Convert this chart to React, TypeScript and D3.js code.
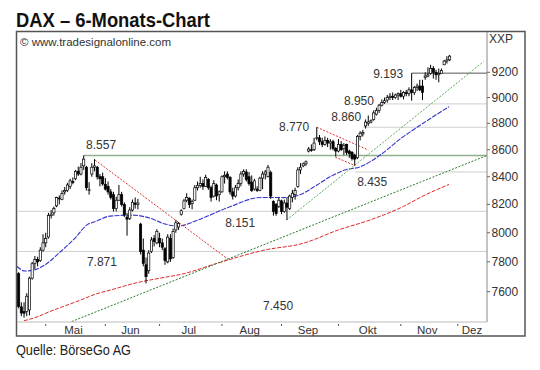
import * as d3 from 'd3'

// DAX daily candles, 17.04.2013 - 27.11.2013
const opens = [
  7720, 7500, 7470, 7470, 7480, 7690, 7790, 7815, 7810, 7880,
  7930, 7970, 8120, 8140, 8190, 8245, 8235, 8290, 8300, 8330,
  8365, 8385, 8440, 8420, 8480, 8470, 8300, 8420, 8470, 8470,
  8400, 8400, 8345, 8330, 8290, 8270, 8170, 8230, 8270, 8200,
  8110, 8100, 8160, 8210, 8200, 8060, 7880, 7780, 7740, 7870,
  7960, 7930, 7960, 7930, 7890, 7800, 7960, 7830, 8020, 8040,
  8130, 8170, 8230, 8245, 8205, 8230, 8320, 8335, 8350, 8330,
  8380, 8320, 8260, 8340, 8270, 8290, 8400, 8420, 8395, 8290,
  8260, 8320, 8350, 8420, 8435, 8400, 8360, 8310, 8310, 8300,
  8390, 8420, 8400, 8430, 8220, 8200, 8185, 8225, 8150, 8210,
  8170, 8250, 8270, 8330, 8450, 8480, 8495, 8590, 8600, 8600,
  8690, 8690, 8660, 8640, 8670, 8650, 8660, 8610, 8590, 8640,
  8610, 8640, 8590, 8580, 8560, 8540, 8700, 8720, 8780, 8800,
  8810, 8830, 8870, 8900, 8940, 8960, 8980, 9000, 9010, 9000,
  9020, 9030, 9010, 9040, 9030, 9060, 9040, 9080, 9090, 9090,
  9160, 9170, 9190, 9230, 9200, 9180, 9190, 9260, 9290, 9300,
]
const highs = [
  7730, 7530, 7530, 7590, 7700, 7800, 7840, 7835, 7900, 7990,
  8000, 8140, 8160, 8185, 8255, 8265, 8300, 8325, 8355, 8385,
  8395, 8450, 8475, 8500, 8557, 8480, 8360, 8500, 8530, 8480,
  8420, 8430, 8390, 8365, 8310, 8290, 8255, 8340, 8290, 8215,
  8140, 8180, 8235, 8250, 8240, 8070, 7960, 7830, 7880, 7970,
  7985, 8025, 8000, 7960, 7900, 7990, 7990, 8030, 8090, 8075,
  8165, 8240, 8280, 8250, 8235, 8340, 8365, 8400, 8380, 8415,
  8390, 8335, 8375, 8350, 8300, 8410, 8440, 8440, 8405, 8320,
  8340, 8380, 8440, 8455, 8455, 8435, 8410, 8385, 8330, 8400,
  8440, 8450, 8487, 8445, 8230, 8210, 8250, 8234, 8234, 8250,
  8270, 8305, 8320, 8470, 8500, 8505, 8520, 8620, 8640, 8690,
  8770, 8711, 8690, 8700, 8690, 8680, 8675, 8620, 8680, 8665,
  8650, 8645, 8600, 8590, 8570, 8711, 8740, 8750, 8830, 8860,
  8830, 8900, 8920, 8950, 8985, 9000, 9020, 9035, 9040, 9030,
  9040, 9060, 9050, 9060, 9080, 9193, 9090, 9110, 9140, 9140,
  9200, 9240, 9260, 9250, 9220, 9230, 9230, 9300, 9330, 9340,
]
const lows = [
  7490, 7440, 7430, 7440, 7445, 7680, 7750, 7770, 7800, 7870,
  7900, 7960, 8100, 8120, 8180, 8200, 8230, 8270, 8290, 8310,
  8345, 8375, 8405, 8410, 8450, 8300, 8270, 8400, 8440, 8380,
  8330, 8335, 8300, 8270, 8235, 8150, 8150, 8225, 8185, 8110,
  7980, 8090, 8150, 8170, 8165, 7850, 7770, 7655, 7720, 7860,
  7905, 7920, 7900, 7880, 7780, 7790, 7800, 7820, 8000, 8020,
  8120, 8165, 8215, 8175, 8165, 8225, 8300, 8320, 8305, 8325,
  8305, 8220, 8250, 8230, 8220, 8285, 8350, 8380, 8270, 8235,
  8250, 8300, 8330, 8400, 8365, 8335, 8290, 8300, 8290, 8295,
  8310, 8380, 8395, 8240, 8120, 8120, 8175, 8130, 8140, 8090,
  8160, 8215, 8234, 8320, 8420, 8470, 8480, 8580, 8585, 8590,
  8670, 8635, 8620, 8630, 8620, 8600, 8595, 8550, 8580, 8590,
  8560, 8560, 8540, 8520, 8480, 8530, 8670, 8700, 8760, 8780,
  8800, 8820, 8860, 8880, 8930, 8950, 8960, 8980, 8980, 8990,
  8980, 9000, 8985, 9010, 9010, 8975, 9020, 9050, 9050, 8980,
  9140, 9160, 9180, 9150, 9140, 9120, 9190, 9260, 9270, 9290,
]
const closes = [
  7503, 7460, 7459, 7570, 7690, 7787, 7815, 7800, 7880, 7930,
  7960, 8122, 8131, 8170, 8249, 8240, 8278, 8300, 8340, 8370,
  8362, 8440, 8420, 8470, 8530, 8320, 8305, 8470, 8480, 8400,
  8385, 8348, 8310, 8290, 8250, 8170, 8230, 8270, 8200, 8125,
  8095, 8160, 8215, 8200, 8210, 7870, 7790, 7700, 7860, 7950,
  7940, 8010, 7930, 7900, 7810, 7970, 7820, 8010, 8070, 8065,
  8155, 8225, 8250, 8200, 8220, 8320, 8335, 8350, 8330, 8395,
  8320, 8250, 8350, 8260, 8290, 8400, 8410, 8395, 8290, 8260,
  8320, 8350, 8420, 8440, 8380, 8350, 8300, 8370, 8300, 8390,
  8420, 8435, 8470, 8260, 8150, 8135, 8230, 8150, 8210, 8180,
  8260, 8280, 8300, 8450, 8470, 8495, 8510, 8605, 8595, 8650,
  8690, 8660, 8640, 8670, 8650, 8660, 8610, 8590, 8640, 8600,
  8630, 8580, 8570, 8535, 8530, 8700, 8725, 8730, 8810, 8810,
  8820, 8880, 8900, 8940, 8960, 8975, 9000, 9010, 9000, 9020,
  9030, 9010, 9040, 9030, 9060, 9040, 9080, 9090, 9060, 9040,
  9170, 9180, 9230, 9200, 9180, 9190, 9215, 9290, 9300, 9330,
]

// moving averages, sampled at trading-day positions
const maFastAt = [-0.6, 2.4, 5, 9.7, 15.3, 20.8, 25.2, 28.6, 33.7, 42.2, 48.5, 54, 58.8, 66.2, 77.3, 89.4, 97.6, 103.8, 110.1, 114.9, 120.4, 126, 133.4, 140.7, 149.2, 158.8]
const maFast = [7769, 7738, 7742, 7779, 7867, 7963, 8055, 8081, 8117, 8124, 8102, 8061, 8047, 8090, 8178, 8250, 8249, 8270, 8340, 8400, 8449, 8473, 8560, 8680, 8800, 8929]
const maSlowAt = [2, 6, 11.6, 22.9, 28.6, 33.7, 43.7, 52.2, 60.5, 73.2, 90.6, 105, 118, 129.7, 141.9, 149.2, 158.8]
const maSlow = [7410, 7430, 7470, 7545, 7585, 7610, 7660, 7690, 7718, 7790, 7880, 7927, 8020, 8090, 8185, 8260, 8344]

// trend lines: [day, value] -> [day, value]
const trendFrom = [[19.6, 7405], [98.9, 8090], [28.2, 8523], [110, 8770], [116.8, 8545]]
const trendTo = [[172.8, 8557], [171.5, 9285], [77.3, 7817], [129, 8598], [123.5, 8487]]
const trendColor = ['#2f7a2f', '#5aaa5a', '#e23030', '#e23030', '#e23030']

// horizontal levels (start day, -1 = whole width)
const levelValues = [8557, 9193, 8950, 8770, 8435, 8151, 7871]
const levelFrom = [24, 145, 133, 127, 124, -1, -1]

const labelTexts = ['8.557', '8.770', '8.860', '8.950', '9.193', '8.435', '8.151', '7.871', '7.450']
const labelValues = [8557, 8770, 8860, 8950, 9193, 8435, 8151, 7871, 7450]
const labelDay = [24.9, 96.1, 115.3, 120, 130.8, 124.9, 76.2, 25.2, 90.2]

const months = ['Mai', 'Jun', 'Jul', 'Aug', 'Sep', 'Okt', 'Nov', 'Dez']
const yTicks = [7600, 7800, 8000, 8200, 8400, 8600, 8800, 9000, 9200]

const FONT = "'Liberation Sans', Arial, sans-serif"

export default function App() {
  const left = 17, right = 487, top = 32, bottom = 322

  // trading days from 17.04.2013, Xetra closed on 01.05.
  const fmt = d3.utcFormat('%Y-%m-%d')
  const days = d3.utcDays(new Date(Date.UTC(2013, 3, 17)), new Date(Date.UTC(2014, 0, 10)))
    .filter(d => d.getUTCDay() % 6 !== 0 && fmt(d) !== '2013-05-01')

  const x = d3.scaleLinear().domain([-0.6, 172.8]).range([left, right])
  const y = d3.scaleLog().domain([7400, 9550]).range([322.3, 29.4])

  const monthStarts: number[] = []
  days.forEach((d, i) => {
    if (i > 0 && d.getUTCMonth() !== days[i - 1].getUTCMonth()) monthStarts.push(i)
  })

  const maLine = d3.line<[number, number]>()
    .x(d => x(d[0]))
    .y(d => y(d[1]))
    .curve(d3.curveMonotoneX)

  // label nudges relative to their level
  const labelDy = [-10, 0, 1, -3, 0.5, 10, 12, 11, -9]

  return (
    <svg width={540} height={370} style={{ position: 'absolute', left: 0, top: 0, background: '#fff' }}>
      <defs>
        <clipPath id="plot">
          <rect x={left} y={top} width={right - left} height={bottom - top} />
        </clipPath>
      </defs>

      <text x={16} y={27} fontFamily={FONT} fontWeight="bold" fontSize={20.5} fill="#111"
        textLength={194} lengthAdjust="spacingAndGlyphs">DAX – 6-Monats-Chart</text>
      <text x={16} y={355} fontFamily={FONT} fontSize={15.5} fill="#222"
        textLength={115} lengthAdjust="spacingAndGlyphs">Quelle: BörseGo AG</text>

      <rect x={16.5} y={31.5} width={508.5} height={304.5} fill="#fff" stroke="#555" strokeWidth={1.5} />

      <g clipPath="url(#plot)">
        {levelValues.map((v, k) => (
          <line key={'lv' + k}
            x1={levelFrom[k] < 0 ? left : x(levelFrom[k])} x2={right}
            y1={y(v)} y2={y(v)}
            stroke={k === 0 ? '#8fb08f' : k === 1 ? '#555' : '#cfcfcf'}
            strokeWidth={k === 0 ? 1.6 : 1} />
        ))}

        <path d={maLine(maSlowAt.map((a, k) => [a, maSlow[k]]) as [number, number][]) || ''}
          fill="none" stroke="#e02a2a" strokeWidth={1} strokeDasharray="4,1.5" />
        <path d={maLine(maFastAt.map((a, k) => [a, maFast[k]]) as [number, number][]) || ''}
          fill="none" stroke="#3535cc" strokeWidth={1.1} strokeDasharray="5,1.2" />

        {trendFrom.map((p, k) => (
          <line key={'tr' + k}
            x1={x(p[0])} y1={y(p[1])} x2={x(trendTo[k][0])} y2={y(trendTo[k][1])}
            stroke={trendColor[k]} strokeWidth={1} strokeDasharray="2,1.5" />
        ))}

        {closes.map((c, i) => {
          const o = opens[i]
          const cx = x(i)
          const yt = y(Math.max(o, c))
          const yb = y(Math.min(o, c))
          return (
            <g key={'c' + i}>
              <line x1={cx} x2={cx} y1={y(highs[i])} y2={y(lows[i])} stroke="#000" strokeWidth={1} />
              <rect x={cx - 1.1} y={yt} width={2.2} height={Math.max(0.8, yb - yt)}
                fill={c >= o ? '#fff' : '#000'} stroke="#000" strokeWidth={0.7} />
            </g>
          )
        })}
      </g>

      {labelTexts.map((t, k) => (
        <text key={'lb' + k} x={x(labelDay[k])} y={y(labelValues[k]) + labelDy[k]}
          dominantBaseline="central" fontFamily={FONT} fontSize={12} fill="#333">{t}</text>
      ))}

      <text x={20} y={41.5} dominantBaseline="central" fontFamily={FONT} fontSize={11.5} fill="#333">© www.tradesignalonline.com</text>

      {/* plot borders */}
      <line x1={left} x2={right} y1={bottom} y2={bottom} stroke="#bbb" strokeWidth={1} />
      <line x1={right} x2={right} y1={top} y2={bottom} stroke="#888" strokeWidth={1} />

      {/* y axis */}
      <text x={489} y={38.5} dominantBaseline="central" fontFamily={FONT} fontSize={12} fill="#333">XXP</text>
      {yTicks.map(v => (
        <g key={'yt' + v}>
          <line x1={right} x2={right + 3} y1={y(v)} y2={y(v)} stroke="#666" />
          <text x={491.5} y={y(v)} dominantBaseline="central" fontFamily={FONT} fontSize={12} fill="#333">{v}</text>
        </g>
      ))}

      {/* x axis */}
      {months.map((m, k) => {
        const t0 = x(monthStarts[k])
        const t1 = x(monthStarts[k + 1])
        const cx = Math.min((t0 + t1) / 2 - 2, 472)
        return (
          <g key={'m' + m}>
            <line x1={t0} x2={t0} y1={bottom + 2} y2={bottom + 4} stroke="#555" />
            <text x={cx} y={330} textAnchor="middle" dominantBaseline="central" fontFamily={FONT} fontSize={11.5} fill="#333">{m}</text>
          </g>
        )
      })}
    </svg>
  )
}
